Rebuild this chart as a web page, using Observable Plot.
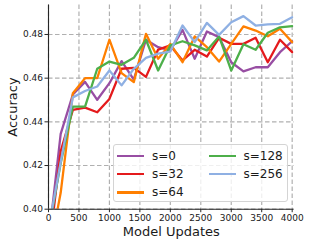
<!DOCTYPE html>
<html><head><meta charset="utf-8">
<script src="https://cdn.jsdelivr.net/npm/d3@7"></script>
<script src="https://cdn.jsdelivr.net/npm/@observablehq/plot@0.6"></script>
<style>
body{margin:0;background:#fff;font-family:"DejaVu Sans",sans-serif;}
#wrap{position:relative;width:309px;height:246px;}
.legend{position:absolute;left:113px;top:144px;width:175px;height:58px;box-sizing:border-box;border:1px solid #d4d4d4;border-radius:3px;background:rgba(255,255,255,0.8);}
.item{position:absolute;height:18px;display:flex;align-items:center;font-size:12px;color:#1a1a1a;white-space:nowrap;}
.swatch{width:27px;height:2.4px;margin-right:8px;}
</style></head>
<body><div id="wrap"></div>
<script>
const series = ["s=0", "s=32", "s=64", "s=128", "s=256"];
const colors = ["#984ea3", "#e41a1c", "#ff7f00", "#4daf4a", "#8fb0e3"];
const updates = [0,200,400,600,800,1000,1200,1400,1600,1800,2000,2200,2400,2600,2800,3000,3200,3400,3600,3800,4000];
const s0   = [0.385,0.4345,0.4525,0.4583,0.4501,0.4577,0.4678,0.4593,0.4776,0.4742,0.4727,0.4821,0.4689,0.4814,0.4788,0.4673,0.4631,0.4650,0.4650,0.4719,0.4769];
const s32  = [0.380,0.4265,0.4455,0.4465,0.4444,0.4505,0.4643,0.4647,0.4606,0.4731,0.4750,0.4681,0.4730,0.4699,0.4785,0.4757,0.4757,0.4785,0.4673,0.4776,0.4719];
const s64  = [0.378,0.4075,0.4531,0.4600,0.4600,0.4776,0.4623,0.4582,0.4803,0.4689,0.4757,0.4673,0.4791,0.4742,0.4676,0.4757,0.4837,0.4818,0.4792,0.4826,0.4765];
const s128 = [0.390,0.4210,0.4470,0.4470,0.4643,0.4676,0.4661,0.4693,0.4776,0.4635,0.4750,0.4769,0.4750,0.4727,0.4791,0.4635,0.4755,0.4730,0.4808,0.4833,0.4838];
const s256 = [0.391,0.4215,0.4512,0.4541,0.4562,0.4635,0.4567,0.4643,0.4693,0.4712,0.4722,0.4841,0.4765,0.4853,0.4798,0.4856,0.4884,0.4841,0.4846,0.4849,0.4879];
const xTicks = [0,500,1000,1500,2000,2500,3000,3500,4000];
const yTicks = [0.40,0.42,0.44,0.46,0.48];

const values = [s0, s32, s64, s128, s256];
const rows = [];
series.forEach((s, i) => updates.forEach((u, j) => rows.push({s, x: u, y: values[i][j]})));

const gridStyle = {stroke: "#b0b0b0", strokeOpacity: 1, strokeDasharray: "4.5,2.5", strokeWidth: 1.2};
const plot = Plot.plot({
  width: 309, height: 246,
  marginLeft: 48, marginRight: 15.5, marginTop: 4.5, marginBottom: 37.3,
  style: {fontFamily: "DejaVu Sans", fontSize: "9px", color: "#1a1a1a", background: "#fff"},
  x: {domain: [0, 4030], label: null},
  y: {domain: [0.40, 0.4935], label: null},
  color: {domain: series, range: colors},
  marks: [
    Plot.gridX(xTicks, gridStyle),
    Plot.gridY(yTicks, gridStyle),
    Plot.line(rows, {x: "x", y: "y", z: "s", stroke: "s", strokeWidth: 2.3, strokeLinejoin: "round", clip: true}),
    Plot.ruleX([0], {stroke: "#262626", strokeWidth: 1.1}),
    Plot.ruleY([0.40], {stroke: "#262626", strokeWidth: 1.1}),
    Plot.axisX(xTicks, {tickSize: 3.5, tickPadding: 2, tickFormat: d => String(d), label: null, stroke: "#262626"}),
    Plot.axisY(yTicks, {tickSize: 3.5, tickPadding: 2, tickFormat: d3.format(".2f"), label: null, stroke: "#262626"}),
    Plot.text(["Accuracy"], {text: d => d, frameAnchor: "left", dx: -35.5, rotate: -90, textAnchor: "middle", lineAnchor: "middle", fontSize: 13, fill: "#1a1a1a"}),
    Plot.text(["Model Updates"], {text: d => d, frameAnchor: "bottom", dy: 23, textAnchor: "middle", lineAnchor: "middle", fontSize: 13, fill: "#1a1a1a"})
  ]
});
const wrap = document.getElementById("wrap");
wrap.appendChild(plot);

const leg = document.createElement("div");
leg.className = "legend";
series.forEach((s, i) => {
  const col = i < 3 ? 0 : 1, row = i % 3;
  const it = document.createElement("div");
  it.className = "item";
  it.style.left = (col === 0 ? 3 : 94.5) + "px";
  it.style.top = (2 + row * 18.2) + "px";
  const sw = document.createElement("div");
  sw.className = "swatch";
  sw.style.background = colors[i];
  it.appendChild(sw);
  it.appendChild(document.createTextNode(s));
  leg.appendChild(it);
});
wrap.appendChild(leg);
</script></body></html>
